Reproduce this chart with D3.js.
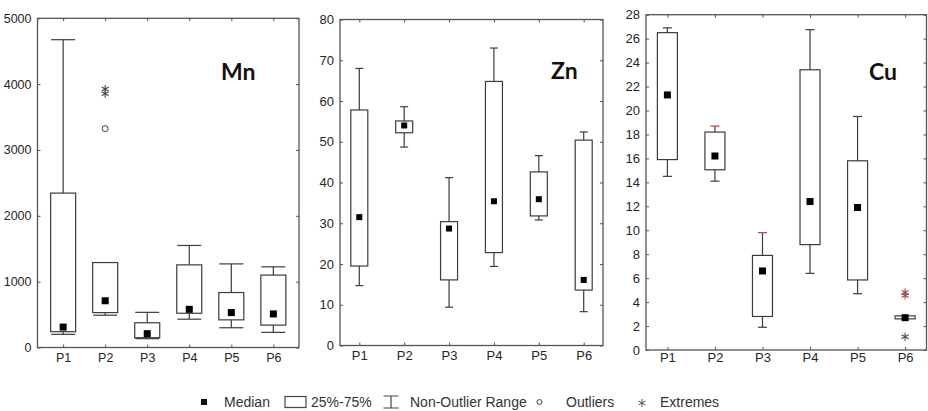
<!DOCTYPE html>
<meta charset="utf-8">
<style>
  body { margin: 0; background: #fff; }
  .tick text { font-family: "Liberation Sans", Arial, sans-serif; fill: #262626; }
  .tick line { stroke: #555; }
  .legend text { font-family: "Liberation Sans", Arial, sans-serif; font-size: 14px; fill: #333; }
  .title { font-family: Lato, "Open Sans", sans-serif; font-weight: 700; font-size: 23px; fill: #111; }
</style>
<body>
<script src="https://cdnjs.cloudflare.com/ajax/libs/d3/7.8.5/d3.min.js"></script>
<script>
var width = 928, height = 411;

var categories = ["P1", "P2", "P3", "P4", "P5", "P6"];

// Mn
var mnMin = [200, 490, 134, 430, 300, 230];
var mnQ1 = [240, 530, 149, 520, 420, 340];
var mnMedian = [310, 710, 210, 580, 530, 510];
var mnQ3 = [2345, 1290, 376, 1255, 835, 1100];
var mnMax = [4675, 1290, 534, 1550, 1270, 1225];
var mnOutliers = [[], [3325], [], [], [], []];
var mnExtremes = [[], [3855, 3925], [], [], [], []];

// Zn
var znMin = [14.7, 48.7, 9.4, 19.4, 30.8, 8.3];
var znQ1 = [19.5, 52.2, 16.1, 22.8, 31.8, 13.6];
var znMedian = [31.5, 54.0, 28.7, 35.4, 35.9, 16.1];
var znQ3 = [57.8, 55.1, 30.4, 64.8, 42.6, 50.4];
var znMax = [68.0, 58.6, 41.2, 73.0, 46.6, 52.4];

// Cu
var cuMin = [14.5, 14.1, 1.9, 6.4, 4.7, 2.6];
var cuQ1 = [15.9, 15.05, 2.8, 8.8, 5.85, 2.6];
var cuMedian = [21.3, 16.2, 6.6, 12.4, 11.9, 2.7];
var cuQ3 = [26.5, 18.2, 7.9, 23.4, 15.8, 2.85];
var cuMax = [26.9, 18.7, 9.8, 26.75, 19.5, 2.85];
var cuExtremes = [[], [], [], [], [], [4.55, 4.8, 1.1]];

var mnTicks = [0, 1000, 2000, 3000, 4000, 5000];
var znTicks = [0, 10, 20, 30, 40, 50, 60, 70, 80];
var cuTicks = [0, 2, 4, 6, 8, 10, 12, 14, 16, 18, 20, 22, 24, 26, 28];

function rows(min, q1, med, q3, max, outl, extr) {
  return categories.map(function(c, i) {
    return {cat: c, min: min[i], q1: q1[i], med: med[i], q3: q3[i], max: max[i],
            outliers: outl ? outl[i] : [], extremes: extr ? extr[i] : []};
  });
}

var panels = [
  {name: "Mn", data: rows(mnMin, mnQ1, mnMedian, mnQ3, mnMax, mnOutliers, mnExtremes),
   x0: 37.5, x1: 299, y0: 347.5, y1: 18.3, domain: [0, 5000], ticks: mnTicks,
   pad: 0.61, boxW: 25, capW: 24, medS: 7, font: 12.5, labelY: 18, titleX: 221, titleY: 80, redCaps: []},
  {name: "Zn", data: rows(znMin, znQ1, znMedian, znQ3, znMax),
   x0: 340, x1: 603, y0: 345.5, y1: 19.5, domain: [0, 80], ticks: znTicks,
   pad: 0.43, boxW: 17, capW: 8, medS: 6, font: 13, labelY: 17, titleX: 551, titleY: 79, redCaps: []},
  {name: "Cu", data: rows(cuMin, cuQ1, cuMedian, cuQ3, cuMax, null, cuExtremes),
   x0: 646, x1: 926.5, y0: 350, y1: 14.7, domain: [0, 28], ticks: cuTicks,
   pad: 0.45, boxW: 20, capW: 9, medS: 7, font: 13, labelY: 15, titleX: 869, titleY: 80, redCaps: ["P2", "P3"]}
];

var svg = d3.select("body").append("svg")
  .attr("width", width)
  .attr("height", height);

var ink = "#3c3c3c";
var asterisk = d3.symbol().type(d3.symbolAsterisk).size(45);

panels.forEach(function(p) {
  var x = d3.scalePoint().domain(categories).range([p.x0, p.x1]).padding(p.pad);
  var y = d3.scaleLinear().domain(p.domain).range([p.y0, p.y1]);
  var g = svg.append("g");

  // ticks (inward)
  g.append("g").attr("transform", "translate(" + p.x0 + ",0)")
    .call(d3.axisLeft(y).tickValues(p.ticks).tickFormat(d3.format("d")).tickSizeInner(-3).tickSizeOuter(0).tickPadding(6))
    .call(function(a) { a.select(".domain").remove(); a.selectAll("text").style("font-size", p.font + "px"); });
  g.append("g").attr("transform", "translate(" + p.x1 + ",0)")
    .call(d3.axisRight(y).tickValues(p.ticks).tickSizeInner(-3).tickSizeOuter(0))
    .call(function(a) { a.select(".domain").remove(); a.selectAll("text").remove(); });
  g.append("g").attr("transform", "translate(0," + p.y0 + ")")
    .call(d3.axisBottom(x).tickSizeInner(-3).tickSizeOuter(0).tickPadding(p.labelY - 12))
    .call(function(a) { a.select(".domain").remove(); a.selectAll("text").style("font-size", p.font + "px"); });
  g.append("g").attr("transform", "translate(0," + p.y1 + ")")
    .call(d3.axisTop(x).tickSizeInner(-3).tickSizeOuter(0))
    .call(function(a) { a.select(".domain").remove(); a.selectAll("text").remove(); });

  // frame
  g.append("rect")
    .attr("x", p.x0).attr("y", p.y1)
    .attr("width", p.x1 - p.x0).attr("height", p.y0 - p.y1)
    .attr("fill", "none").attr("stroke", "#555").attr("stroke-width", 1.3);

  var b = g.selectAll(".box").data(p.data).enter().append("g").attr("class", "box");

  // whiskers
  b.append("line")
    .attr("x1", function(d) { return x(d.cat); }).attr("x2", function(d) { return x(d.cat); })
    .attr("y1", function(d) { return y(d.max); }).attr("y2", function(d) { return y(d.min); })
    .attr("stroke", ink).attr("stroke-width", 1.2);
  b.filter(function(d) { return d.max > d.q3; }).append("line")
    .attr("x1", function(d) { return x(d.cat) - p.capW / 2; }).attr("x2", function(d) { return x(d.cat) + p.capW / 2; })
    .attr("y1", function(d) { return y(d.max); }).attr("y2", function(d) { return y(d.max); })
    .attr("stroke", function(d) { return p.redCaps.indexOf(d.cat) >= 0 ? "#d03a3a" : ink; })
    .attr("stroke-width", 1.2);
  b.filter(function(d) { return d.min < d.q1; }).append("line")
    .attr("x1", function(d) { return x(d.cat) - p.capW / 2; }).attr("x2", function(d) { return x(d.cat) + p.capW / 2; })
    .attr("y1", function(d) { return y(d.min); }).attr("y2", function(d) { return y(d.min); })
    .attr("stroke", ink).attr("stroke-width", 1.2);

  // boxes
  b.append("rect")
    .attr("x", function(d) { return x(d.cat) - p.boxW / 2; })
    .attr("y", function(d) { return y(d.q3); })
    .attr("width", p.boxW)
    .attr("height", function(d) { return Math.max(y(d.q1) - y(d.q3), 2.5); })
    .attr("fill", "#fff").attr("stroke", ink).attr("stroke-width", 1.2);

  // medians
  b.append("rect")
    .attr("x", function(d) { return x(d.cat) - p.medS / 2; })
    .attr("y", function(d) { return y(d.med) - p.medS / 2; })
    .attr("width", p.medS).attr("height", p.medS)
    .attr("fill", "#000");

  // outliers
  b.selectAll(".out").data(function(d) { return d.outliers.map(function(v) { return {cat: d.cat, v: v}; }); })
    .enter().append("circle")
    .attr("cx", function(d) { return x(d.cat); }).attr("cy", function(d) { return y(d.v); })
    .attr("r", 3).attr("fill", "#fff").attr("stroke", ink).attr("stroke-width", 1);

  // extremes
  b.selectAll(".ext").data(function(d) { return d.extremes.map(function(v) { return {cat: d.cat, v: v}; }); })
    .enter().append("path")
    .attr("d", asterisk)
    .attr("transform", function(d) { return "translate(" + x(d.cat) + "," + y(d.v) + ")"; })
    .attr("fill", "none")
    .attr("stroke", function(d) { return p.name === "Cu" && d.v > 4 ? "#9a4a4a" : "#4a4a4a"; })
    .attr("stroke-width", 1.1);

  g.append("text").attr("class", "title")
    .attr("x", p.titleX).attr("y", p.titleY).text(p.name);
});

// legend
var lg = svg.append("g").attr("class", "legend");
var ly = 402;
lg.append("rect").attr("x", 201).attr("y", ly - 3).attr("width", 6).attr("height", 6).attr("fill", "#111");
lg.append("text").attr("x", 224).attr("y", ly + 5).text("Median");
lg.append("rect").attr("x", 285).attr("y", ly - 5.5).attr("width", 21).attr("height", 11)
  .attr("fill", "none").attr("stroke", "#444").attr("stroke-width", 1.2);
lg.append("text").attr("x", 311).attr("y", ly + 5).text("25%-75%");
lg.append("path").attr("d", "M383.5," + (ly - 6) + "H398.5M391," + (ly - 6) + "V" + (ly + 6) + "M383.5," + (ly + 6) + "H398.5")
  .attr("fill", "none").attr("stroke", "#444").attr("stroke-width", 1.2);
lg.append("text").attr("x", 410).attr("y", ly + 5).text("Non-Outlier Range");
lg.append("circle").attr("cx", 539.5).attr("cy", ly).attr("r", 2.5)
  .attr("fill", "none").attr("stroke", "#444").attr("stroke-width", 1);
lg.append("text").attr("x", 566).attr("y", ly + 5).text("Outliers");
lg.append("path").attr("d", asterisk).attr("transform", "translate(642," + (ly + 1) + ")")
  .attr("fill", "none").attr("stroke", "#555").attr("stroke-width", 1);
lg.append("text").attr("x", 660).attr("y", ly + 5).text("Extremes");
</script>
</body>
